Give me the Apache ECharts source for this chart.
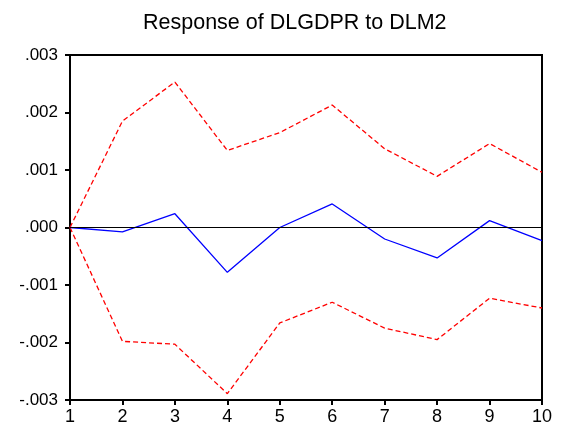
<!DOCTYPE html>
<html>
<head>
<meta charset="utf-8">
<script src="https://cdn.jsdelivr.net/npm/echarts@6/dist/echarts.min.js"></script>
<style>
  html, body { margin: 0; padding: 0; background: #fff; }
  #chart { width: 561px; height: 433px; }
</style>
</head>
<body>
<div id="chart"></div>
<script>
  var periods = ['1', '2', '3', '4', '5', '6', '7', '8', '9', '10']
  var response = [0, -0.000075, 0.00024, -0.00078, 0.0, 0.00041, -0.0002, -0.00053, 0.00012, -0.00023]
  var upperBand = [0, 0.00185, 0.00253, 0.00134, 0.00165, 0.00213, 0.00137, 0.00089, 0.00146, 0.00096]
  var lowerBand = [0, -0.00198, -0.00203, -0.00289, -0.00166, -0.0013, -0.00175, -0.00195, -0.00123, -0.0014]

  var chart = echarts.init(document.getElementById('chart'))
  var font = 'Liberation Sans, Arial, sans-serif'

  chart.setOption({
    animation: false,
    title: {
      text: 'Response of DLGDPR to DLM2',
      left: 138,
      top: 7,
      textStyle: { fontFamily: font, fontSize: 21.5, fontWeight: 'normal', color: '#000' }
    },
    grid: {
      left: 70,
      right: 19,
      top: 55,
      bottom: 33,
      show: true,
      borderColor: '#000',
      borderWidth: 2
    },
    xAxis: {
      type: 'category',
      data: periods,
      boundaryGap: false,
      axisLine: { onZero: false, lineStyle: { color: '#000', width: 2 } },
      axisTick: { show: true, alignWithLabel: true, length: 5, lineStyle: { color: '#000', width: 2 } },
      axisLabel: { color: '#000', fontFamily: font, fontSize: 18, margin: 8 },
      splitLine: { show: false }
    },
    yAxis: {
      type: 'value',
      min: -0.003,
      max: 0.003,
      interval: 0.001,
      axisLine: { show: true, lineStyle: { color: '#000', width: 2 } },
      axisTick: { show: true, length: 5, lineStyle: { color: '#000', width: 2 } },
      axisLabel: {
        color: '#000', fontFamily: font, fontSize: 17, margin: 12,
        padding: [0, 0, 7, 0],
        formatter: function (v) {
          var s = Math.abs(v).toFixed(3).replace(/^0/, '')
          return (v < -1e-9 ? '-' : '') + s
        }
      },
      splitLine: { show: false }
    },
    series: [
      {
        name: 'upper',
        type: 'line',
        data: upperBand,
        symbol: 'none',
        lineStyle: { color: '#ff0000', width: 1.3, type: [5, 3] }
      },
      {
        name: 'lower',
        type: 'line',
        data: lowerBand,
        symbol: 'none',
        lineStyle: { color: '#ff0000', width: 1.3, type: [5, 3] }
      },
      {
        name: 'response',
        type: 'line',
        data: response,
        symbol: 'none',
        lineStyle: { color: '#0000ff', width: 1.3 },
        markLine: {
          silent: true,
          symbol: 'none',
          label: { show: false },
          lineStyle: { color: '#000', width: 1, type: 'solid' },
          data: [{ yAxis: 0 }]
        }
      }
    ]
  })
</script>
</body>
</html>
